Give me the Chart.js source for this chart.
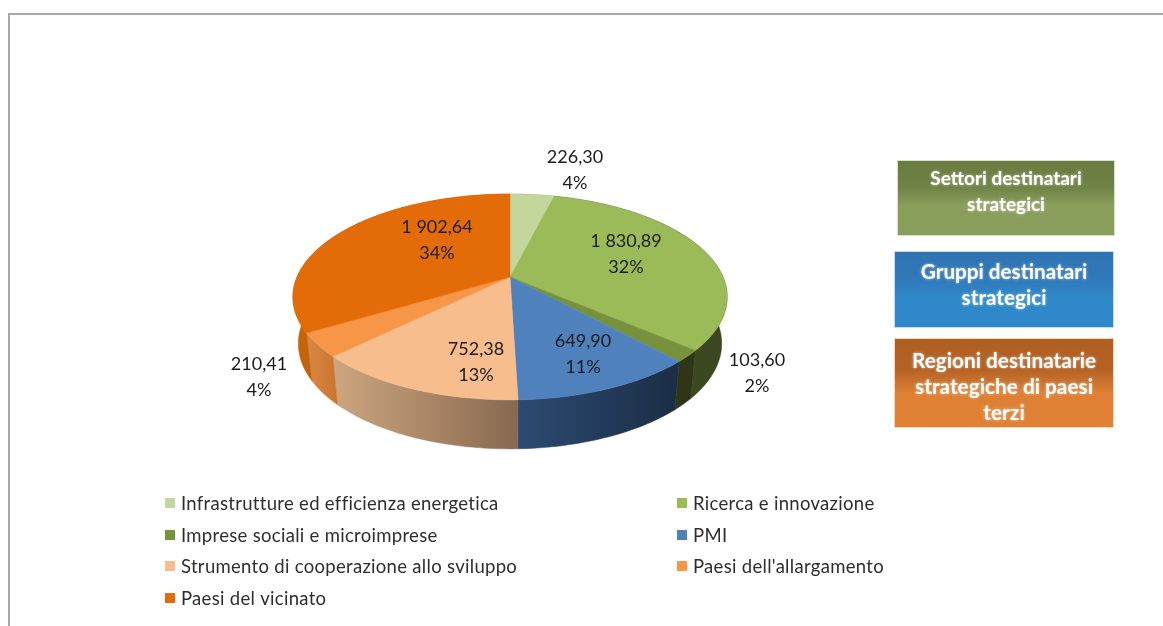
<!DOCTYPE html>
<html><head><meta charset="utf-8">
<style>html,body{margin:0;padding:0;background:#fff;overflow:hidden}canvas{display:block;filter:blur(0.6px)}</style>
<script src="https://cdn.jsdelivr.net/npm/chart.js@4"></script>
</head><body><canvas id="c" width="1163" height="626"></canvas>
<script>
const categories=["Infrastrutture ed efficienza energetica","Ricerca e innovazione","Imprese sociali e microimprese","PMI","Strumento di cooperazione allo sviluppo","Paesi dell'allargamento","Paesi del vicinato"];
const values=[226.30,1830.89,103.60,649.90,752.38,210.41,1902.64];
const topColors=["#c3d69b","#9bbb59","#76923c","#4f81bd","#f8bd8c","#f79646","#e36c09"];
const wallLeft=["#8a9a6a","#465524","#2f3615","#2c4b72","#cda67f","#d98845","#c6640c"];
const wallRight=["#8a9a6a","#3a4620","#2f3615","#1b2d44","#876850","#c9752f","#b85a08"];
const labelPos=[[575,157],[626,241],[757,360],[583,341],[476,349],[259,364],[437,227]];
const boxes=[
 {lines:["Settori destinatari","strategici"],x:897,y:160,w:218,h:76,fs:19,c:["#6a7c40","#6f8245","#8a9e5c","#8a9e5c"],b:"#d8dfc8",ty:[179,205]},
 {lines:["Gruppi destinatari","strategici"],x:894,y:251,w:220,h:77,fs:20.7,c:["#3073b3","#3078b9","#2e88c9","#2e88c9"],b:"#c5dcef",ty:[272,298]},
 {lines:["Regioni destinatarie","strategiche di paesi","terzi"],x:894,y:338,w:220,h:90,fs:20.8,c:["#b05f22","#b46224","#de7f33","#e08135"],b:"#f2d8c0",ty:[361,387,413]}
];
const legendCols=[165,677], legendRows=[503,535,566,598];
const PERSP=0.194, SQUASH=0.465, WALL=46, WALL_EXTRA=3, BASE_SHRINK=0.975;
const FONT='Lato, "Open Sans", sans-serif';

function fmt(v){
  const p=v.toFixed(2).split('.');
  return p[0].replace(/\B(?=(\d{3})+$)/g,' ')+','+p[1];
}
function project(a,ang){
  const u=Math.cos(ang),v=Math.sin(ang),w=1-PERSP*v;
  return {x:a.x+a.outerRadius*u/w,y:a.y+a.outerRadius*SQUASH*v/w,v};
}
function base(a,p){
  return {x:a.x+(p.x-a.x)*BASE_SHRINK,y:p.y+WALL+WALL_EXTRA*p.v};
}
const pie3d={
  id:'pie3d',
  beforeDraw(chart){
    const ctx=chart.ctx;
    ctx.save();
    ctx.fillStyle='#fff';ctx.fillRect(0,0,1163,626);
    ctx.fillStyle='#a8a8a8';
    ctx.fillRect(8,13,1155,2);
    ctx.fillRect(8,13,2,613);
    ctx.restore();
  },
  beforeDatasetsDraw(chart){
    const ctx=chart.ctx, arcs=chart.getDatasetMeta(0).data;
    ctx.save();
    const paths=arcs.map(a=>{
      const pts=[],n=Math.max(8,Math.ceil((a.endAngle-a.startAngle)*40));
      for(let i=0;i<=n;i++)pts.push(project(a,a.startAngle+(a.endAngle-a.startAngle)*i/n));
      return pts;
    });
    arcs.forEach((a,i)=>{
      const pts=paths[i],b=pts.map(p=>base(a,p));
      const xs=pts.map(p=>p.x).concat(b.map(p=>p.x));
      const g=ctx.createLinearGradient(Math.min(...xs),0,Math.max(...xs),0);
      g.addColorStop(0,wallLeft[i]);g.addColorStop(1,wallRight[i]);
      ctx.beginPath();
      pts.forEach((p,k)=>k?ctx.lineTo(p.x,p.y):ctx.moveTo(p.x,p.y));
      b.reverse().forEach(p=>ctx.lineTo(p.x,p.y));
      ctx.closePath();
      ctx.fillStyle=g;ctx.strokeStyle=g;ctx.lineWidth=0.5;ctx.fill();ctx.stroke();
    });
    arcs.forEach((a,i)=>{
      ctx.beginPath();ctx.moveTo(a.x,a.y);
      paths[i].forEach(p=>ctx.lineTo(p.x,p.y));
      ctx.closePath();
      ctx.fillStyle=a.options.backgroundColor;ctx.strokeStyle=a.options.backgroundColor;ctx.lineWidth=0.5;
      ctx.fill();ctx.stroke();
    });
    ctx.restore();
    return false;
  },
  afterDraw(chart){
    const ctx=chart.ctx,data=chart.data.datasets[0].data;
    const total=data.reduce((s,v)=>s+v,0);
    ctx.save();
    ctx.textAlign='center';ctx.textBaseline='middle';
    ctx.fillStyle='#1c1c1c';ctx.font='18px '+FONT;
    data.forEach((v,i)=>{
      const [x,y]=labelPos[i];
      ctx.fillText(fmt(v),x,y);
      ctx.fillText(Math.round(v/total*100)+'%',x,y+26);
    });
    ctx.textAlign='left';ctx.font='18.5px '+FONT;ctx.letterSpacing='0.3px';
    chart.data.labels.forEach((t,i)=>{
      const row=i>>1,col=i&1;
      const x=legendCols[col],y=legendRows[row];
      ctx.fillStyle=topColors[i];ctx.fillRect(x,y-5,10,10);
      ctx.fillStyle='#2e2e2e';ctx.fillText(t,x+16,y+1);
    });
    ctx.letterSpacing='0px';
    boxes.forEach(b=>{
      const g=ctx.createLinearGradient(0,b.y,0,b.y+b.h);
      g.addColorStop(0,b.c[0]);g.addColorStop(0.35,b.c[1]);g.addColorStop(0.6,b.c[2]);g.addColorStop(1,b.c[3]);
      ctx.fillStyle=g;ctx.fillRect(b.x,b.y,b.w,b.h);
      ctx.strokeStyle=b.b;ctx.lineWidth=1;ctx.strokeRect(b.x+.5,b.y+.5,b.w-1,b.h-1);
      ctx.textAlign='center';ctx.font='bold '+b.fs+'px '+FONT;ctx.fillStyle='#fff';
      ctx.shadowColor='rgba(255,255,255,.55)';ctx.shadowBlur=3;
      b.lines.forEach((t,k)=>ctx.fillText(t,b.x+b.w/2,b.ty[k]));
      ctx.shadowBlur=0;
    });
    ctx.restore();
  }
};
new Chart(document.getElementById('c'),{
  type:'pie',
  data:{labels:categories,datasets:[{data:values,backgroundColor:topColors,borderWidth:0}]},
  options:{
    responsive:false,animation:false,
    layout:{padding:{left:297,right:440,top:64,bottom:136}},
    plugins:{legend:{display:false},tooltip:{enabled:false},title:{display:false}}
  },
  plugins:[pie3d]
});
</script></body></html>
